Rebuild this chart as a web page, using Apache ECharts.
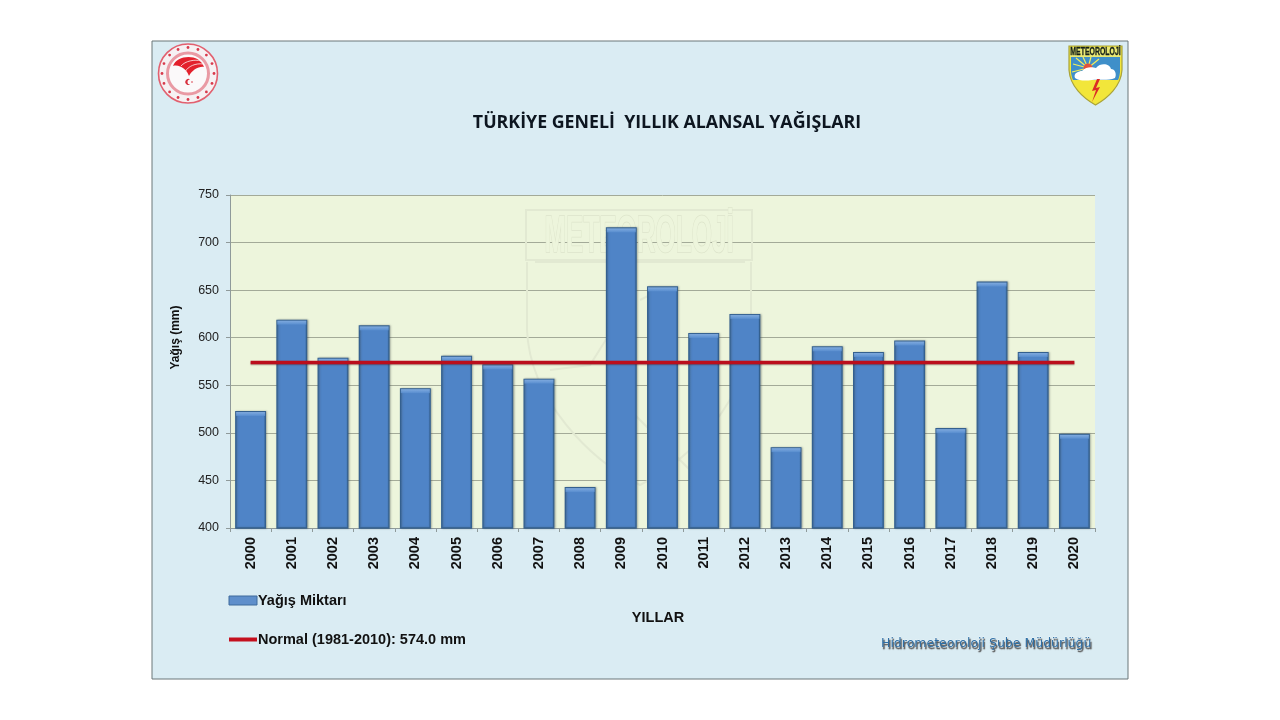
<!DOCTYPE html>
<html><head><meta charset="utf-8">
<style>html,body{margin:0;padding:0;background:#fff}#c{width:1280px;height:720px}</style>
<script src="https://cdn.jsdelivr.net/npm/echarts@6/dist/echarts.min.js"></script>
</head><body><div id="c"></div>
<script>
const years = ['2000','2001','2002','2003','2004','2005','2006','2007','2008','2009','2010','2011','2012','2013','2014','2015','2016','2017','2018','2019','2020'];
const rainfall = [523,619,579,613,547,581,572,557,443,716,654,605,625,485,591,585,597,505,659,585,499];
const normal = [574,574,574,574,574,574,574,574,574,574,574,574,574,574,574,574,574,574,574,574,574];
const yMin = 400, yMax = 750, yStep = 50;
const titleText = 'TÜRKİYE GENELİ  YILLIK ALANSAL YAĞIŞLARI';
const barName = 'Yağış Miktarı';
const lineName = 'Normal (1981-2010): 574.0 mm';
const footerText = 'Hidrometeoroloji Şube Müdürlüğü';

const el = [];
let shapeId = 0;
function addPath(d, z, style){
  const name = 'deco' + (shapeId++);
  echarts.graphic.registerShape(name, echarts.graphic.extendPath(d, {}));
  el.push({type:name, z:z, style:style});
}
// panel
el.push({type:'rect',z:-5,shape:{x:152,y:41,width:976,height:638},style:{fill:'#daecf3',stroke:'#6b7678',lineWidth:1}});
// watermark
const wm = {fill:'none',stroke:'#e2e9d2',lineWidth:2};
el.push({type:'rect',z:1,shape:{x:526,y:210,width:226,height:50},style:wm});
addPath('M527 262 L527 330 C530 400 590 460 640 485 C690 460 748 400 751 330 L751 262 M535 262 L745 262',1,wm);
addPath('M550 370 L590 365 L612 330 M640 300 L660 290 M620 400 L690 470',1,wm);
el.push({type:'text',z:1,x:639,y:238,scaleX:0.5,style:{text:'METEOROLOJİ',font:'bold 52px "Liberation Sans"',fill:'#edf5dc',stroke:'#dde4cb',lineWidth:1.6,align:'center',verticalAlign:'middle'}});
// ministry seal (left)
el.push({type:'circle',z:3,shape:{cx:188,cy:73.5,r:29.5},style:{fill:'#f6f1f3',stroke:'#e2606f',lineWidth:1.6}});
el.push({type:'circle',z:3,shape:{cx:188,cy:73.5,r:20.5},style:{fill:'#fbf9fa',stroke:'#e99aa4',lineWidth:3}});
for(let i=0;i<16;i++){const a=i/16*2*Math.PI;el.push({type:'circle',z:3,shape:{cx:188+26*Math.cos(a),cy:73.5+26*Math.sin(a),r:1.4},style:{fill:'#d83a4c'}});}
addPath('M173 66 C177 55 199 53 204 67 C199 66 192 70 189 76 C187 70 180 64 173 66 Z',4,{fill:'#e3202c'});
addPath('M185 72 C188 66 196 63 203 64 M181 66 C185 61 195 59 201 61',4,{fill:'none',stroke:'#fdeff0',lineWidth:0.8});
addPath('M190 79.5 A3 3 0 1 0 190 84.5 A2.5 2.5 0 1 1 190 79.5 Z',4,{fill:'#d8303f'});
el.push({type:'circle',z:4,shape:{cx:192,cy:82,r:0.8},style:{fill:'#d8303f'}});
// shield logo (right)
addPath('M1069 46 L1122 46 L1122 70 C1121 86 1108 98 1095.5 105 C1083 98 1070 86 1069 70 Z',3,{fill:'#f2e63a',stroke:'#a9a33a',lineWidth:1.2});
addPath('M1071 57 L1120 57 L1120 72 C1119.5 76 1119 78 1118 80 L1073 80 C1072 78 1071.5 76 1071 72 Z',3,{fill:'#3f8fc9'});
addPath('M1088 68 L1076 58 M1088 68 L1073 64 M1088 68 L1072 72 M1088 68 L1083 57 M1088 68 L1091 57 M1088 68 L1099 59',3,{fill:'none',stroke:'#f2ee5a',lineWidth:1.2});
el.push({type:'rect',z:3,shape:{x:1070,y:47,width:51,height:10},style:{fill:'#e9e873'}});
el.push({type:'text',z:4,x:1095.5,y:52,scaleX:0.66,style:{text:'METEOROLOJİ',font:'bold 10.5px "Liberation Sans"',fill:'#15201a',stroke:'#15201a',lineWidth:0.3,align:'center',verticalAlign:'middle'}});
el.push({type:'circle',z:4,shape:{cx:1088,cy:68,r:4.5},style:{fill:'#e2533a'}});
addPath('M1075 78 C1073 73 1079 71 1082 71 C1086 66 1093 67 1096 68 C1101 62 1110 64 1111 69 C1115 69 1117 74 1115 78 C1108 81 1098 79 1092 80 C1086 81 1079 81 1075 78 Z',4,{fill:'#ffffff'});
addPath('M1097 79 L1092 91 L1096 90 L1092 102 L1100 87 L1096 88 L1100 79 Z',4,{fill:'#dc2b26'});
// footer
el.push({type:'text',z:5,x:881,y:644,style:{text:footerText,font:'12.5px "DejaVu Sans"',fill:'#2f6fa5',stroke:'#ffffff',lineWidth:0.4,verticalAlign:'middle',textShadowColor:'#555',textShadowBlur:1,textShadowOffsetX:1,textShadowOffsetY:1.5}});

const chart = echarts.init(document.getElementById('c'),null,{renderer:'canvas'});
chart.setOption({
  animation:false,
  backgroundColor:'#ffffff',
  title:{text:titleText,left:662,top:109,textAlign:'center',textStyle:{fontFamily:'Open Sans',fontWeight:'bold',fontSize:17.8,color:'#0d1620'}},
  grid:{left:230,right:185,top:195,bottom:192,show:true,backgroundColor:'#edf5dc',borderWidth:0},
  legend:{left:222,top:588,orient:'vertical',itemWidth:28,itemHeight:9,itemGap:24,
    data:[{name:barName,icon:'rect',itemStyle:{color:'#5f8fcb',borderColor:'#3f6a9c',borderWidth:1}},
          {name:lineName,lineStyle:{color:'#c4101e',width:4},itemStyle:{color:'rgba(0,0,0,0)',borderWidth:0,borderColor:'rgba(0,0,0,0)'}}],selectedMode:false,
    textStyle:{fontFamily:'Liberation Sans',fontWeight:'bold',fontSize:14.5,color:'#111',padding:[0,0,0,-4]}},
  xAxis:{type:'category',data:years,name:'YILLAR',nameLocation:'middle',nameGap:82,
    nameTextStyle:{fontFamily:'Liberation Sans',fontWeight:'bold',fontSize:14.5,color:'#111',padding:[0,0,0,-9]},
    axisLine:{lineStyle:{color:'#8f9a9a'}},axisTick:{show:true,length:4,alignWithLabel:false,lineStyle:{color:'#8f9a9a'}},
    axisLabel:{rotate:90,interval:0,margin:9,fontFamily:'Liberation Sans',fontWeight:'bold',fontSize:14.5,color:'#111'}},
  yAxis:{type:'value',min:yMin,max:yMax,interval:yStep,name:'Yağış (mm)',nameLocation:'middle',nameGap:48,nameRotate:90,
    nameTextStyle:{fontFamily:'Liberation Sans',fontWeight:'bold',fontSize:12,color:'#111',padding:[0,0,0,48]},
    axisLine:{show:true,lineStyle:{color:'#8f9a9a'}},axisTick:{show:true,length:4,lineStyle:{color:'#8f9a9a'}},
    axisLabel:{margin:11,padding:[0,0,2,0],fontFamily:'Liberation Sans',fontSize:12.5,color:'#222'},
    splitLine:{show:true,lineStyle:{color:'#a3aa98',width:1}}},
  graphic:{elements:el},
  series:[
    {name:barName,type:'bar',data:rainfall,barWidth:'75%',z:2,
     itemStyle:{borderColor:'#34608f',borderWidth:1.3,
       color:{type:'linear',x:0,y:0,x2:1,y2:0,colorStops:[{offset:0,color:'#4274ad'},{offset:.08,color:'#4f84c7'},{offset:.92,color:'#4f84c7'},{offset:1,color:'#3f70a8'}]},
       shadowColor:'rgba(60,70,70,.35)',shadowBlur:2,shadowOffsetX:1,shadowOffsetY:0}},
    {name:'bevel',type:'scatter',data:rainfall,symbol:'rect',symbolSize:[29,4],symbolOffset:[0,3],z:3,silent:true,
     itemStyle:{color:{type:'linear',x:0,y:0,x2:0,y2:1,colorStops:[{offset:0,color:'#8db6e8'},{offset:1,color:'#5a8fd0'}]}}},
    {name:lineName,type:'line',data:normal,symbol:'none',showSymbol:false,z:4,
     lineStyle:{color:'#bb0e1c',width:3.6,shadowColor:'rgba(70,20,20,.35)',shadowBlur:1,shadowOffsetY:1},itemStyle:{color:'#c00f1e'}}
  ]
});
</script></body></html>
